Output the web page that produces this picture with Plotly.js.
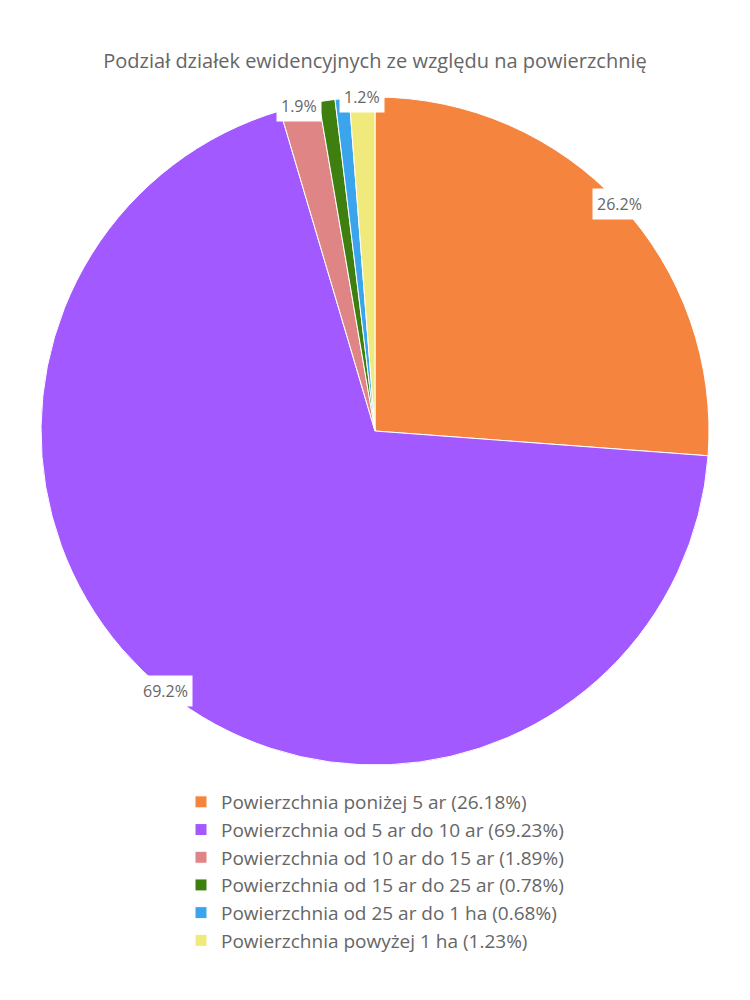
<!DOCTYPE html>
<html>
<head>
<meta charset="utf-8">
<script src="https://cdn.plot.ly/plotly-3.0.1.min.js"></script>
<style>html,body{margin:0;padding:0;background:#fff;}#chart{width:750px;height:1000px;}</style>
</head>
<body>
<div id="chart"></div>
<script>
const categories = [
  "Powierzchnia poniżej 5 ar",
  "Powierzchnia od 5 ar do 10 ar",
  "Powierzchnia od 10 ar do 15 ar",
  "Powierzchnia od 15 ar do 25 ar",
  "Powierzchnia od 25 ar do 1 ha",
  "Powierzchnia powyżej 1 ha"
];
const shares = [26.18, 69.23, 1.89, 0.78, 0.68, 1.23];
const colors = ["#F5843F", "#A259FF", "#E08585", "#3F7F0F", "#3AA5EC", "#F0EA7C"];

const W = 750, H = 1000;
const cx = 375, cy = 431, R = 334;
const fontFam = "'Open Sans', Lato, sans-serif";

const legendLabels = categories.map((c, i) => c + " (" + shares[i].toFixed(2) + "%)");

const total = shares.reduce((a, b) => a + b, 0);
const annotations = [];
let cum = 0;
shares.forEach((v, i) => {
  const mid = (cum + v / 2) / total * 2 * Math.PI;
  cum += v;
  if (v / total * 100 < 1) return;
  const px = cx + R * Math.sin(mid);
  const py = cy - R * Math.cos(mid);
  annotations.push({
    xref: "paper", yref: "paper",
    x: px / W, y: 1 - py / H,
    xanchor: "center", yanchor: "middle",
    text: (v / total * 100).toFixed(1) + "%",
    showarrow: false,
    bgcolor: "#ffffff",
    borderpad: 4,
    font: {family: fontFam, size: 16, color: "#666666"}
  });
});

const trace = {
  type: "pie",
  labels: legendLabels,
  values: shares,
  sort: false,
  direction: "clockwise",
  rotation: 0,
  marker: {colors: colors, line: {color: "#ffffff", width: 1}},
  textinfo: "none",
  hoverinfo: "none",
  domain: {x: [(cx - R) / W, (cx + R) / W], y: [1 - (cy + R) / H, 1 - (cy - R) / H]}
};

const layout = {
  width: W, height: H,
  margin: {l: 0, r: 0, t: 0, b: 0},
  paper_bgcolor: "#ffffff",
  font: {family: fontFam, color: "#666666"},
  title: {text: "Podział działek ewidencyjnych ze względu na powierzchnię",
          x: 0.5, xanchor: "center", y: 1 - 61 / H, yanchor: "middle",
          font: {family: fontFam, size: 20, color: "#666666"}},
  showlegend: true,
  legend: {orientation: "v", x: 0.5, xanchor: "center", y: 1 - 783 / H, yanchor: "top",
           font: {family: fontFam, size: 19, color: "#666666"}, bgcolor: "rgba(0,0,0,0)"},
  annotations: annotations
};

Plotly.newPlot("chart", [trace], layout, {displayModeBar: false, staticPlot: true});
</script>
</body>
</html>
